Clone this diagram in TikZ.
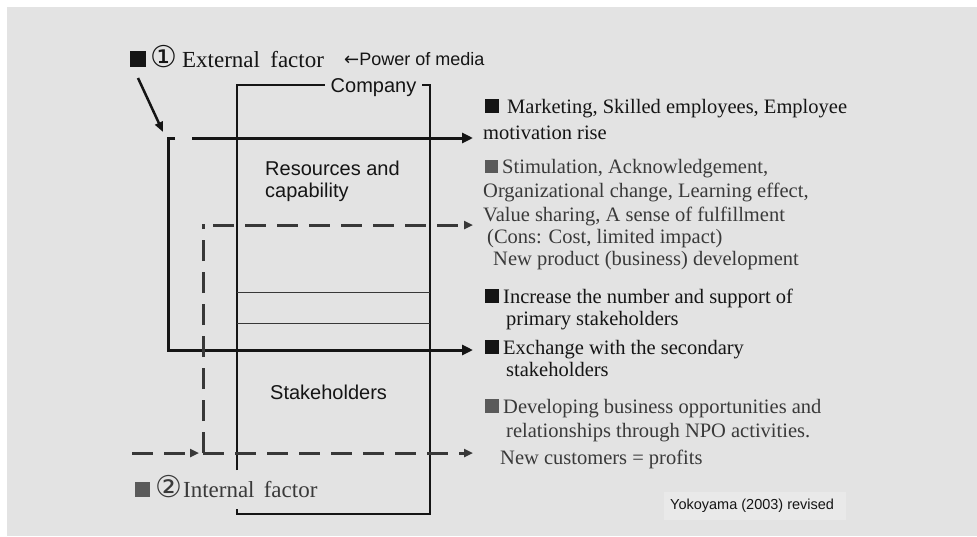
\documentclass[tikz,border=0pt]{standalone}
\usepackage{fontspec}
\setmainfont{Liberation Serif}
\setsansfont{Liberation Sans}
\newfontfamily\symfont{DejaVu Sans}
\usetikzlibrary{arrows.meta}

\definecolor{panel}{HTML}{E3E3E3}
\definecolor{panellight}{HTML}{E9E9E9}
\definecolor{ink}{HTML}{151515}
\definecolor{softink}{HTML}{3A3A3A}
\definecolor{hatch}{HTML}{5A5A5A}

% solid bullet square: colour, side length
\newcommand{\bsq}[2]{\textcolor{#1}{\rule{#2}{#2}}}
% enlarged circled digit
\newcommand{\cdig}[1]{{\symfont\fontsize{30}{30}\selectfont #1}}

\begin{document}
\begin{tikzpicture}[x=1pt,y=-1pt,
  boxline/.style={line width=1.1pt, draw=ink},
  thinrule/.style={line width=0.9pt, draw=ink!85},
  flow/.style={line width=3pt, draw=ink, line join=miter,
    -{Triangle[length=11pt,width=10pt]}},
  dplain/.style={line width=3pt, draw=ink!85, dash pattern=on 21pt off 11pt},
  dflow/.style={dplain, -{Triangle[length=9pt,width=8pt]}},
  rtxt/.style={anchor=base west, inner sep=0pt, text=ink,
    font=\fontsize{20.5}{22}\selectfont},
  stxt/.style={rtxt, text=softink},
  sftxt/.style={anchor=base west, inner sep=0pt, text=ink,
    font=\sffamily\fontsize{20}{22}\selectfont},
  factor/.style={anchor=base west, inner sep=0pt,
    font=\fontsize{23}{26}\selectfont},
]
% page and panel
\fill[white] (0,0) rectangle (977,536);
\fill[panel] (7,7) rectangle (977,536);
\useasboundingbox (0,0) rectangle (977,536);

% company frame
\coordinate (bTL) at (237,85);
\coordinate (bTR) at (430,85);
\coordinate (bBR) at (430,514);
\coordinate (bBL) at (237,514);
\draw[boxline] (237,470) -- (bTL) -- (bTR) -- (bBR) -- (bBL) -- (237,509);
\draw[thinrule] (237,292) -- (430,292);
\draw[thinrule] (237,323) -- (430,323);
\node[fill=panel, inner xsep=6pt, inner ysep=2pt, anchor=base,
  font=\sffamily\fontsize{20}{22}\selectfont, text=ink] (company) at (373.5,92) {Company};

\node[sftxt] (res1) at (265,175) {Resources and};
\node[sftxt] (res2) at (265,197) {capability};
\node[sftxt] (stake) at (270,399) {Stakeholders};

% factor labels
\node[factor, text=ink] (extf) at (130,67)
  {\bsq{ink}{16pt}\hspace{4pt}\cdig{①}\hspace{5pt}External\hspace{0.45em}factor};
\node[anchor=base west, inner sep=0pt, text=ink,
  font=\sffamily\fontsize{18}{20}\selectfont] (media) at (344,65) {{\symfont ←}Power of media};
\node[factor, text=softink] (intf) at (135,497)
  {\bsq{hatch}{15pt}\hspace{5pt}\cdig{②}\hspace{1pt}Internal\hspace{0.4em}factor};

% effect statements
\node[rtxt] (t1a) at (485,113) {\bsq{ink}{14pt}\hspace{8pt}Marketing, Skilled employees, Employee};
\node[rtxt] (t1b) at (483,139) {motivation rise};

\node[stxt] (t2a) at (485,173) {\bsq{hatch}{13pt}\hspace{4pt}Stimulation, Acknowledgement,};
\node[stxt] (t2b) at (483,197) {Organizational change, Learning effect,};
\node[stxt] (t2c) at (483,221) {Value sharing, A sense of fulfillment};
\node[stxt] (t2d) at (487,243) {(Cons: Cost, limited impact)};
\node[stxt] (t2e) at (493,265) {New product (business) development};

\node[rtxt] (t3a) at (485,303) {\bsq{ink}{14pt}\hspace{4pt}Increase the number and support of};
\node[rtxt] (t3b) at (506,325) {primary stakeholders};

\node[rtxt] (t4a) at (485,354) {\bsq{ink}{14pt}\hspace{4pt}Exchange with the secondary};
\node[rtxt] (t4b) at (506,376) {stakeholders};

\node[stxt] (t5a) at (485,413) {\bsq{hatch}{14pt}\hspace{4pt}Developing business opportunities and};
\node[stxt] (t5b) at (506,437) {relationships through NPO activities.};
\node[stxt] (t5c) at (500,464) {New customers = profits};

% source note
\fill[panellight] (664,492) rectangle (846,520);
\node[anchor=base west, inner sep=0pt, text=ink,
  font=\sffamily\fontsize{14.5}{16}\selectfont] (src) at (670,509) {Yokoyama (2003) revised};

% external factor flows
\coordinate (extFrom) at (138,78);
\coordinate (extTo) at (163,132);
\coordinate (c1s) at (175,138);
\coordinate (c1) at (168,138);
\coordinate (c2) at (168,350);
\coordinate (a1s) at (192,138);
\coordinate (t1in) at (473,138);
\coordinate (t4in) at (473,350);
\draw[line width=2.5pt, draw=ink, -{Triangle[length=10pt,width=8pt]}] (extFrom) -- (extTo);
\draw[flow] (a1s) -- (t1in);
\draw[flow] (c1s) -- (c1) -- (c2) -- (t4in);

% internal factor flows
\coordinate (d0) at (132,453);
\coordinate (d1) at (199,453);
\coordinate (dc) at (203,453);
\coordinate (dtop) at (203,224);
\coordinate (d2s) at (213,225);
\coordinate (t2in) at (473,225);
\coordinate (t5in) at (473,453);
\draw[dflow] (d0) -- (d1);
\draw[dplain] (dc) -- (dtop);
\draw[dflow] (d2s) -- (t2in);
\draw[dflow] (dc) -- (t5in);
\end{tikzpicture}
\end{document}
